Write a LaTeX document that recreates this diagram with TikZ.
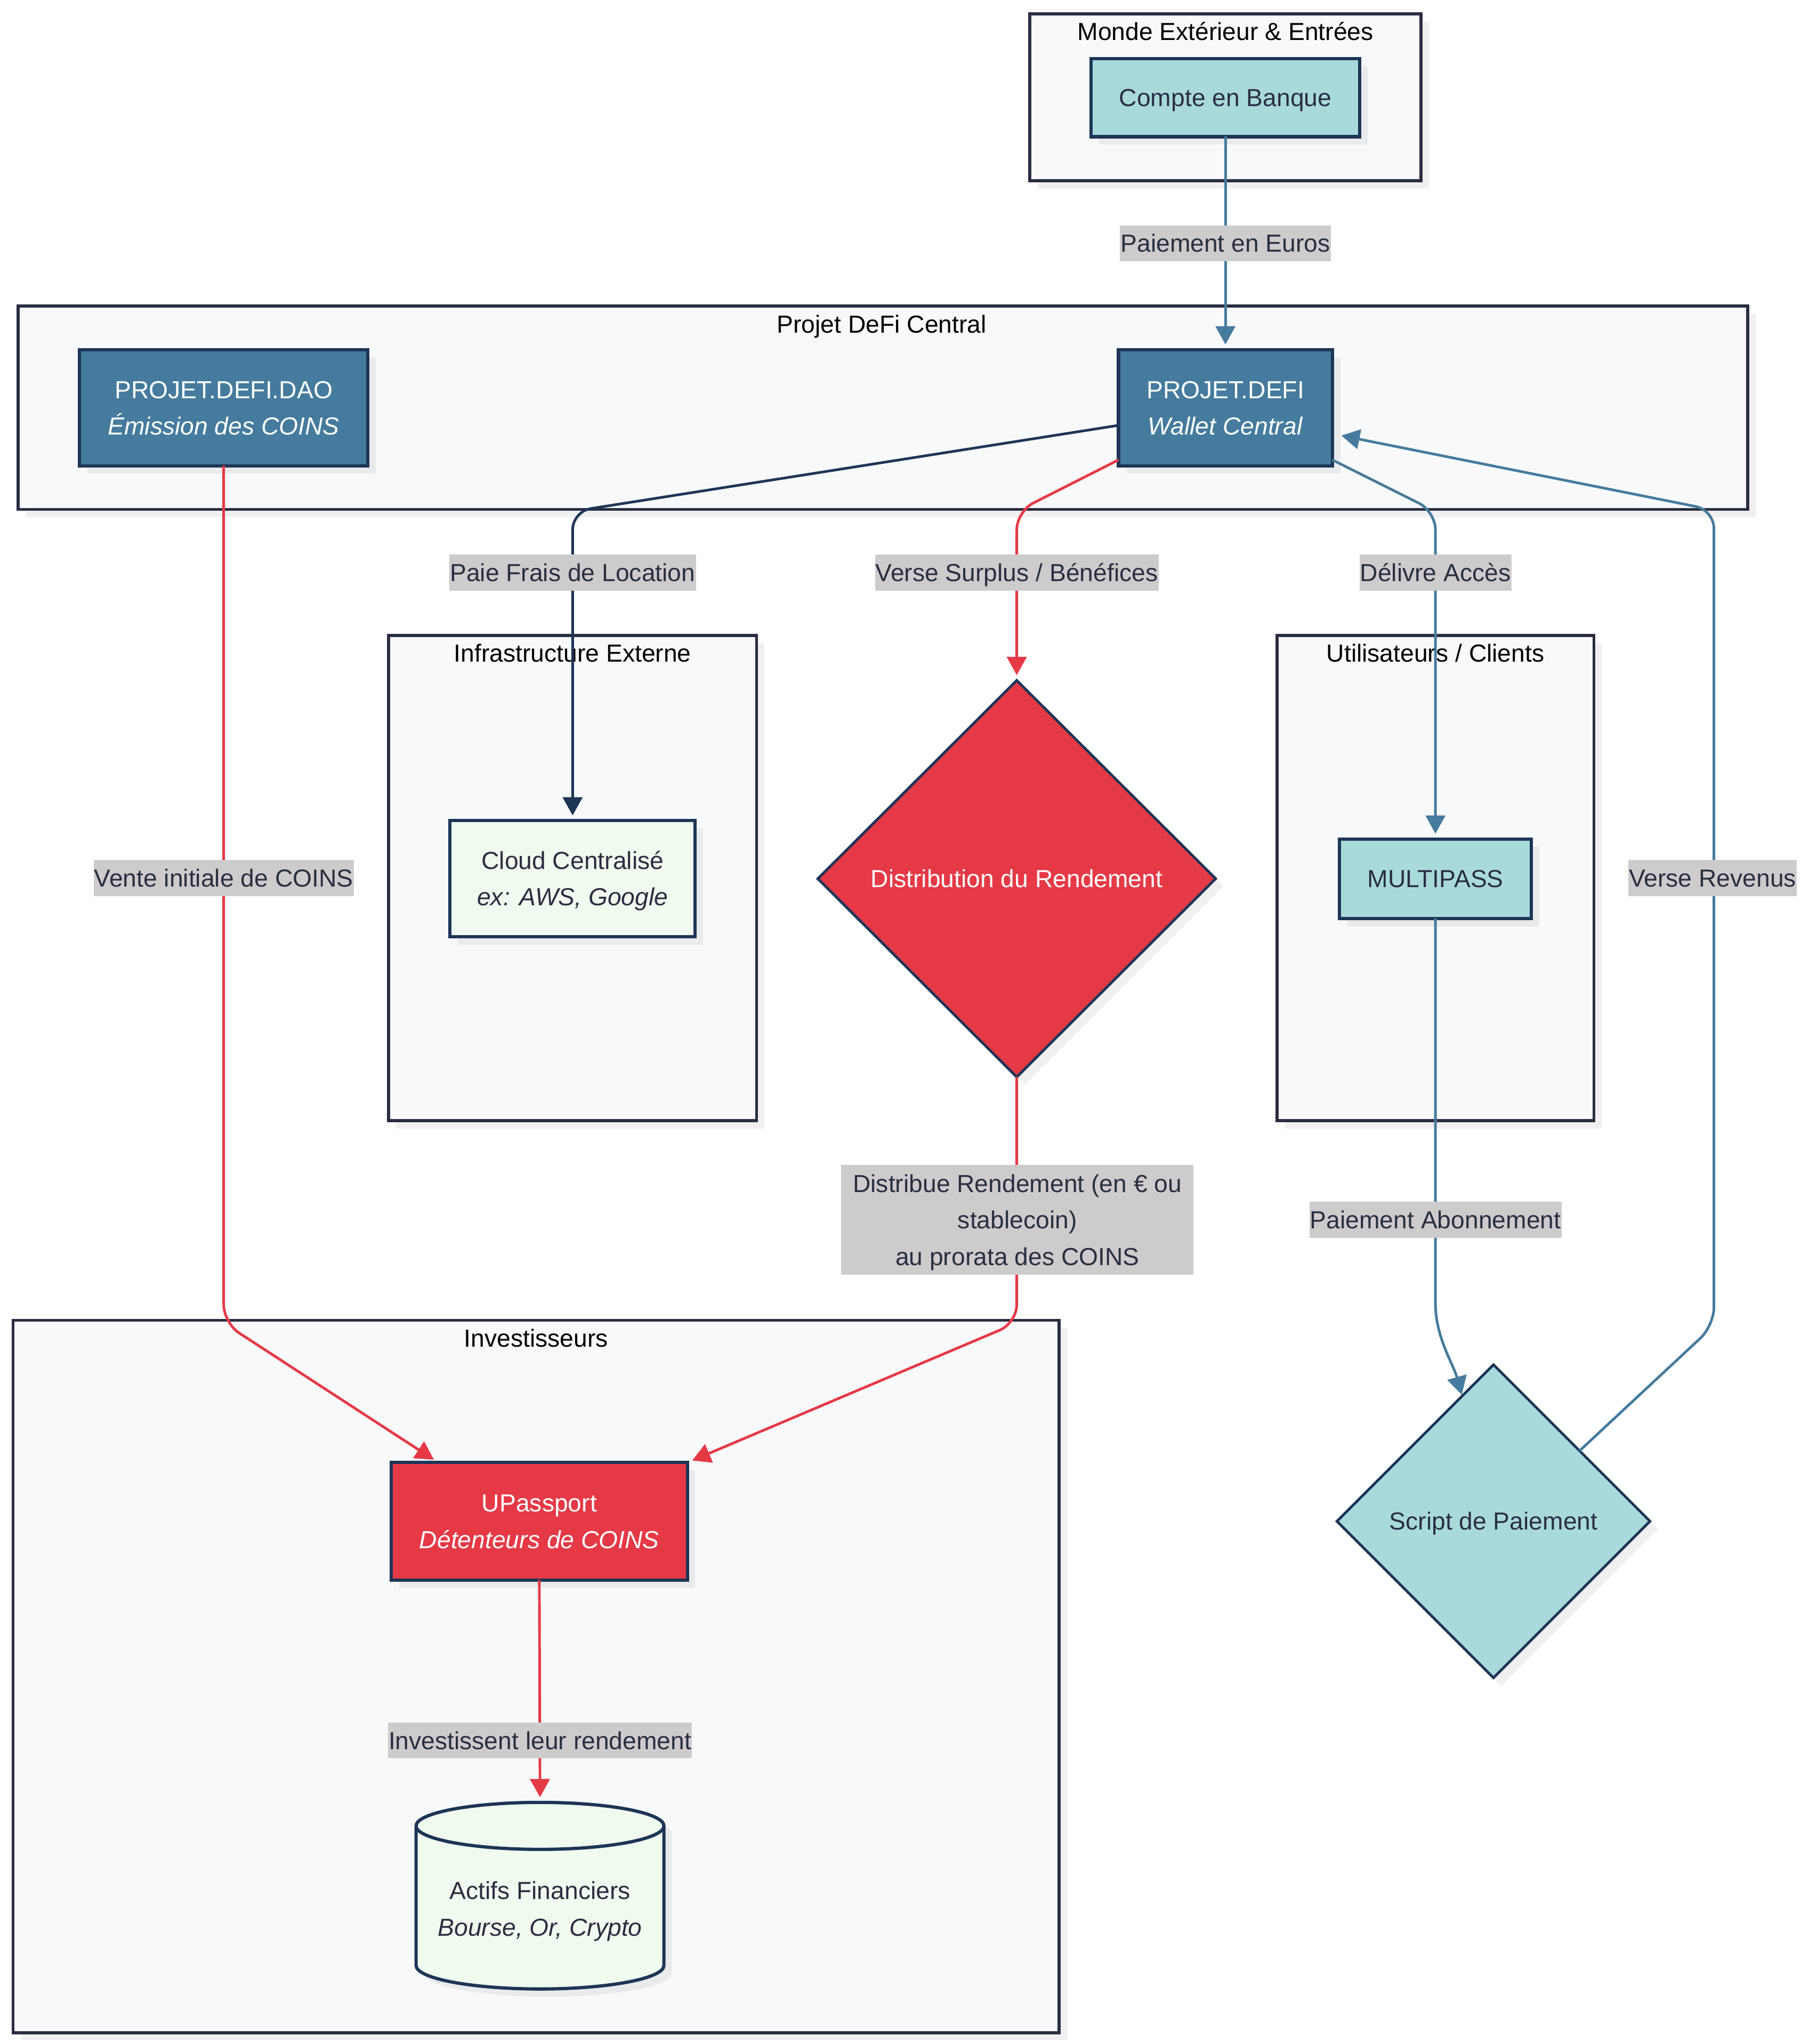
\documentclass[tikz,border=0pt]{standalone}
\usepackage{fontspec}
\setmainfont{Liberation Sans}
\usetikzlibrary{shapes.geometric,shadows,arrows.meta,calc}
\definecolor{cred}{HTML}{E63946}
\definecolor{cblue}{HTML}{457B9D}
\definecolor{cnavy}{HTML}{1D3557}
\definecolor{cteal}{HTML}{A8DADC}
\definecolor{cmint}{HTML}{F1FAEE}
\definecolor{ctext}{HTML}{2B2D42}
\definecolor{cclfill}{HTML}{F8F9FA}
\definecolor{cclline}{HTML}{2B2D42}
\definecolor{clabel}{HTML}{CCCCCC}
\newcommand\mytl[1]{\rule{0pt}{13.5pt}\smash{#1}}
\tikzset{
 shad/.style={drop shadow={shadow xshift=6pt,shadow yshift=-6pt,fill=black,opacity=0.06}},
 cluster/.style={rectangle,draw=cclline,fill=cclfill,line width=2.3pt,inner sep=0pt,outer sep=0pt,shad},
 cltitle/.style={text=black,inner sep=0pt},
 box/.style={rectangle,draw=cnavy,line width=2.5pt,inner sep=0pt,outer sep=0pt,align=center,shad},
 darkbox/.style={box,fill=cblue,text=white},
 tealbox/.style={box,fill=cteal,text=ctext},
 mintbox/.style={box,fill=cmint,text=ctext},
 redbox/.style={box,fill=cred,text=white},
 dia/.style={diamond,draw=cnavy,line width=2pt,inner sep=0pt,outer sep=0pt,shad},
 elabel/.style={fill=clabel,text=ctext,inner xsep=0.5pt,inner ysep=7.1pt,align=center},
 link/.style={line width=2pt,rounded corners=14pt,-{Triangle[length=14pt,width=15pt]},shorten >=4pt},
}
\begin{document}
\begin{tikzpicture}[x=1pt,y=-1pt,every node/.append style={font=\fontsize{18.9}{28}\selectfont}]
\useasboundingbox[fill=white] (0,0) rectangle (1386.5,1566.7);
% clusters
\node[cluster,minimum width=300pt,minimum height=128pt] (gM) at (939.5,74.5) {};
\node[cltitle] (tM) at (939.5,24.3) {\mytl{Monde Extérieur \& Entrées}};
\node[cluster,minimum width=1326pt,minimum height=156pt] (gP) at (677,312.5) {};
\node[cltitle] (tP) at (676,248.3) {\mytl{Projet DeFi Central}};
\node[cluster,minimum width=282pt,minimum height=372pt] (gI) at (439,673) {};
\node[cltitle] (tI) at (439,500.5) {\mytl{Infrastructure Externe}};
\node[cluster,minimum width=243pt,minimum height=372pt] (gU) at (1100.5,673) {};
\node[cltitle] (tU) at (1100.5,500.5) {\mytl{Utilisateurs / Clients}};
\node[cluster,minimum width=802pt,minimum height=546pt] (gV) at (411,1285) {};
\node[cltitle] (tV) at (411,1025.5) {\mytl{Investisseurs}};
% nodes
\node[tealbox,minimum width=206pt,minimum height=60pt] (CB) at (939.5,74.8) {\mytl{Compte en Banque}};
\node[darkbox,minimum width=221pt,minimum height=89pt] (DAO) at (171.5,312.5) {\mytl{PROJET.DEFI.DAO}\\\mytl{\textit{Émission des COINS}}};
\node[darkbox,minimum width=164pt,minimum height=89pt] (PD) at (939.5,312.5) {\mytl{PROJET.DEFI}\\\mytl{\textit{Wallet Central}}};
\node[mintbox,minimum width=188pt,minimum height=89pt] (CC) at (439,673.5) {\mytl{Cloud Centralisé}\\\mytl{\textit{ex: AWS, Google}}};
\node[dia,fill=cred,text=white,minimum width=305pt,minimum height=304pt] (DR) at (779.5,673.5) {\mytl{Distribution du Rendement}};
\node[tealbox,minimum width=147pt,minimum height=61pt] (MP) at (1100.5,673.5) {\mytl{MULTIPASS}};
\node[dia,fill=cteal,text=ctext,minimum width=240pt,minimum height=240pt] (SP) at (1145,1166) {\mytl{Script de Paiement}};
\node[redbox,minimum width=227pt,minimum height=90pt] (UP) at (413.5,1166) {\mytl{UPassport}\\\mytl{\textit{Détenteurs de COINS}}};
% cylinder
\begin{scope}[shift={(6,6)}]
\fill[black,opacity=0.06] (319,1399.5) -- (319,1506.5) arc[start angle=180,end angle=360,x radius=95pt,y radius=18pt] -- (509,1399.5) arc[start angle=0,end angle=180,x radius=95pt,y radius=18pt] -- cycle;
\end{scope}
\filldraw[fill=cmint,draw=cnavy,line width=2.5pt] (319,1399.5) -- (319,1506.5) arc[start angle=180,end angle=360,x radius=95pt,y radius=18pt] -- (509,1399.5) arc[start angle=0,end angle=180,x radius=95pt,y radius=18pt] -- cycle;
\draw[cnavy,line width=2.5pt] (319,1399.5) arc[start angle=180,end angle=360,x radius=95pt,y radius=18pt];
\node[text=ctext,align=center,inner sep=0pt] (AF) at (414,1463) {\mytl{Actifs Financiers}\\\mytl{\textit{Bourse, Or, Crypto}}};
\coordinate (AFtop) at (414,1381.5);
% edges
\draw[link,cblue] (CB.south) -- (PD.north);
\draw[link,cnavy] ([yshift=-13.5pt]PD.west) -- (439,392) -- (CC.north);
\draw[link,cred] ([yshift=-40pt]PD.west) -- (779.5,392) -- (DR.north);
\draw[link,cblue] ([yshift=-40pt]PD.east) -- (1100.5,392) -- (MP.north);
\draw[link,cblue,shorten >=7pt] ($(SP.north)!0.55!(SP.east)$) -- (1314,1016) -- (1314,391) -- ([yshift=-20pt]PD.east);
\draw[link,cred] (DAO.south) -- (171.5,1014) -- ([xshift=36pt]UP.north west);
\draw[link,cred] (DR.south) -- (779.5,1014) -- (UP.north east);
\draw[link,cblue,shorten >=1pt] (MP.south) -- (1100.5,985) .. controls (1100.5,1025) and (1114,1045) .. ($(SP.north)!0.2!(SP.west)$);
\draw[link,cred] (UP.south) -- (AFtop);
% edge labels
\node[elabel] (l1) at (939.5,186.5) {\mytl{Paiement en Euros}};
\node[elabel] (l2) at (439,439) {\mytl{Paie Frais de Location}};
\node[elabel] (l3) at (779.5,439) {\mytl{Verse Surplus / Bénéfices}};
\node[elabel] (l4) at (1100.5,439) {\mytl{Délivre Accès}};
\node[elabel] (l5) at (1313,673) {\mytl{Verse Revenus}};
\node[elabel] (l6) at (171.5,673) {\mytl{Vente initiale de COINS}};
\node[fill=clabel,text=ctext,align=center,inner sep=0pt,minimum width=270pt,minimum height=84pt] (l7) at (780,935) {\mytl{Distribue Rendement (en € ou}\\\mytl{stablecoin)}\\\mytl{au prorata des COINS}};
\node[elabel] (l8) at (1100.5,935) {\mytl{Paiement Abonnement}};
\node[elabel] (l9) at (414,1334) {\mytl{Investissent leur rendement}};
\end{tikzpicture}
\end{document}
